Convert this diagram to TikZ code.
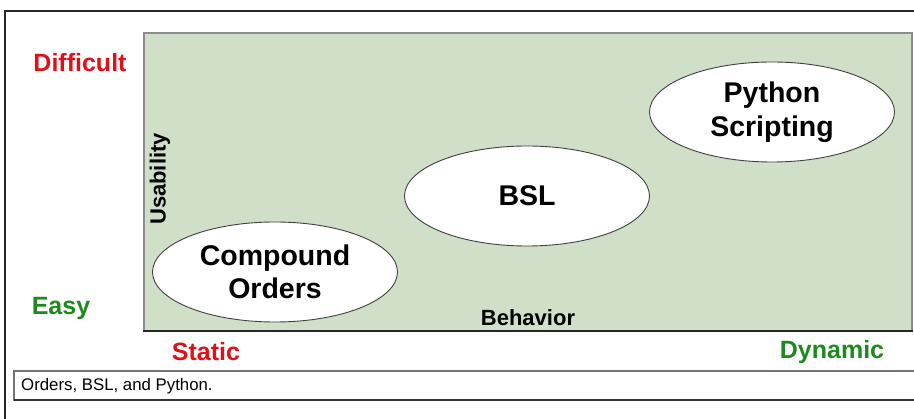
\documentclass[tikz,border=0pt]{standalone}
\usepackage{fontspec}
\setmainfont{Liberation Sans}
\usetikzlibrary{shapes.geometric}
\definecolor{panel}{HTML}{D0DFC8}
\definecolor{hardred}{HTML}{E0101A}
\definecolor{easygreen}{HTML}{1E8A1E}
\tikzset{
  blob/.style={ellipse, draw=black!75, line width=0.9pt, fill=white,
    minimum width=245pt, minimum height=100pt, inner sep=0pt,
    font=\fontsize{28.5}{33.5}\selectfont\bfseries, align=center},
  axis/.style={font=\fontsize{22}{26}\selectfont\bfseries},
  level/.style={font=\fontsize{25}{29}\selectfont\bfseries},
}
\begin{document}
\begin{tikzpicture}[x=1pt,y=-1pt]
  \useasboundingbox (0,0) rectangle (914,419);
  % outer frame
  \draw[line width=1.3pt, black!85] (5,419) -- (5,11) -- (914,11);
  % chart panel
  \fill[panel] (144,33) rectangle (912,331);
  \draw[line width=1.2pt, black!45] (144,331) -- (144,33) -- (912,33) -- (912,331);
  \draw[line width=1.8pt, black!85] (143,331) -- (913,331);
  % ellipses
  \node[blob] (co) at (275,272) {Compound\\Orders};
  \node[blob] (bsl) at (527,196) {BSL};
  \node[blob] (py) at (772,112) {Python\\Scripting};
  % axis titles
  \node[axis, rotate=90] (usab) at (160,179) {Usability};
  \node[axis] (behav) at (528,318) {Behavior};
  % scale labels
  \node[level, text=hardred] (diff) at (80,63) {Difficult};
  \node[level, text=easygreen] (easy) at (61,308) {Easy};
  \node[level, text=hardred] (stat) at (206,352) {Static};
  \node[level, text=easygreen] (dyn) at (832,352) {Dynamic};
  % caption strip
  \draw[line width=1.1pt, black!55] (916,371) -- (14,371) -- (14,400) -- (916,400);
  \draw[line width=1.1pt, black!80] (14,400) -- (916,400);
  \node[anchor=west, font=\fontsize{16.8}{20}\selectfont, inner sep=0pt] (cap) at (21,386) {Orders, BSL, and Python.};
\end{tikzpicture}
\end{document}
